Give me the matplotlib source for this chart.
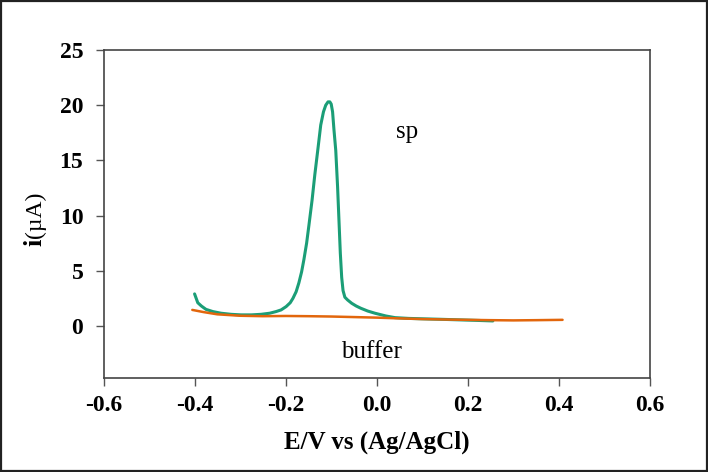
import matplotlib
matplotlib.use("Agg")
import matplotlib.pyplot as plt
from matplotlib.patches import Rectangle

# Data
sp_E = [-0.400, -0.393, -0.385, -0.375, -0.360, -0.342, -0.320, -0.298, -0.275, -0.254,
        -0.235, -0.221, -0.210, -0.199, -0.190, -0.184, -0.177, -0.171, -0.165, -0.160,
        -0.154, -0.149, -0.142, -0.136, -0.129, -0.123, -0.117, -0.112, -0.107, -0.103,
        -0.100, -0.097, -0.094, -0.090, -0.086, -0.083, -0.080, -0.077, -0.074, -0.070,
        -0.064, -0.055, -0.045, -0.035, -0.020, -0.004, 0.020, 0.040, 0.070, 0.095,
        0.140, 0.180, 0.220, 0.255]
sp_i = [2.9, 2.1, 1.8, 1.5, 1.3, 1.15, 1.05, 1.0, 1.0, 1.05,
        1.15, 1.3, 1.45, 1.75, 2.1, 2.5, 3.1, 3.9, 4.9, 6.0,
        7.5, 9.1, 11.4, 13.7, 16.1, 18.2, 19.4, 20.0, 20.3, 20.3,
        20.1, 19.4, 17.8, 15.9, 12.6, 9.6, 6.6, 4.4, 3.2, 2.6,
        2.35, 2.05, 1.8, 1.6, 1.35, 1.15, 0.9, 0.75, 0.68, 0.65,
        0.6, 0.55, 0.5, 0.45]

buf_E = [-0.405, -0.380, -0.350, -0.300, -0.250, -0.200, -0.150, -0.100, -0.050,
         0.000, 0.050, 0.100, 0.150, 0.200, 0.250, 0.300, 0.350, 0.408]
buf_i = [1.45, 1.25, 1.05, 0.92, 0.88, 0.9, 0.88, 0.85, 0.8,
         0.75, 0.68, 0.62, 0.58, 0.55, 0.52, 0.5, 0.52, 0.55]

xticks = [-0.6, -0.4, -0.2, 0.0, 0.2, 0.4, 0.6]
yticks = [0, 5, 10, 15, 20, 25]

plt.rcParams['font.family'] = ['Liberation Serif', 'DejaVu Serif']
plt.rcParams['axes.unicode_minus'] = False

fig = plt.figure(figsize=(7.08, 4.72), dpi=100)
ax = fig.add_axes([103.5/708, 1 - 378/472, (650-103.5)/708, (378-50)/472])

ax.plot(sp_E, sp_i, color='#1b9e77', lw=2.2, solid_capstyle='round')
ax.plot(buf_E, buf_i, color='#e2660c', lw=1.8, solid_capstyle='round')

ax.set_xlim(-0.6, 0.6)
ax.set_ylim(-4.72, 25)
ax.set_xticks(xticks)
ax.set_yticks(yticks)
ax.set_xticklabels([f"{t:.1f}" for t in xticks], fontsize=17, fontweight='bold')
ax.set_yticklabels([str(t) for t in yticks], fontsize=17, fontweight='bold')
ax.tick_params(axis='both', direction='out', length=5.5, width=1, color='#555555')
ax.tick_params(axis='y', pad=9)
ax.tick_params(axis='x', pad=7)
ax.tick_params(top=False, right=False)
for s in ax.spines.values():
    s.set_color('#444444')
    s.set_linewidth(1.2)

ax.text(0.066, 17.6, 'sp', fontsize=18, ha='center', va='center')
ax.text(-0.012, -2.4, 'buffer', fontsize=18, ha='center', va='center')

ax.set_xlabel('E/V vs (Ag/AgCl)', fontsize=18, fontweight='bold', labelpad=10)

# y label: bold "i" followed by regular "(µA)"
fig.text(35/708, 1 - 246/472, 'i', rotation=90, fontsize=19, fontweight='bold',
         ha='center', va='bottom')
fig.text(35/708, 1 - 238/472, '(µA)', rotation=90, fontsize=17,
         ha='center', va='bottom')

fig.patches.append(Rectangle((0.0015, 0.002), 0.997, 0.996, transform=fig.transFigure,
                             fill=False, edgecolor='#222222', linewidth=1.6, figure=fig))

fig.savefig('out.png', dpi=100)
